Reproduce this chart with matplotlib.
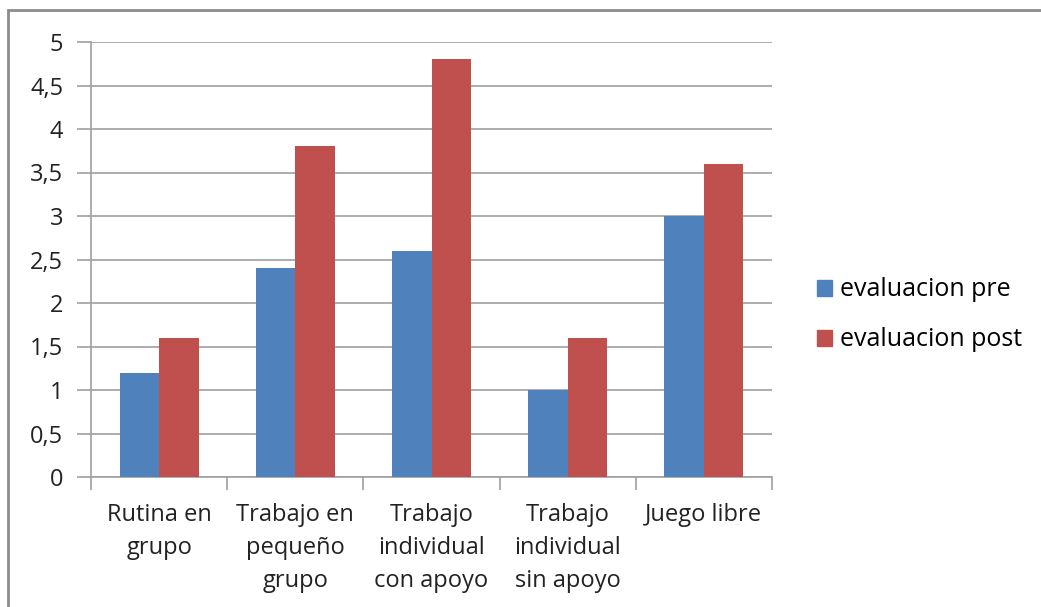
import matplotlib.pyplot as plt
import numpy as np
from matplotlib.patches import Patch, Rectangle

plt.rcParams['font.family'] = ['Open Sans', 'DejaVu Sans']

# data
categorias = ["Rutina en\ngrupo", "Trabajo en\npequeño\ngrupo", "Trabajo\nindividual\ncon apoyo",
              "Trabajo\nindividual\nsin apoyo", "Juego libre"]
eval_pre = [1.2, 2.4, 2.6, 1.0, 3.0]
eval_post = [1.6, 3.8, 4.8, 1.6, 3.6]
series = ["evaluacion pre", "evaluacion post"]
yticks = [0, 0.5, 1, 1.5, 2, 2.5, 3, 3.5, 4, 4.5, 5]
ytick_labels = ["0", "0,5", "1", "1,5", "2", "2,5", "3", "3,5", "4", "4,5", "5"]

blue = "#4F81BD"
red = "#C0504D"
grid_c = "#A0A0A0"
txt_c = "#222222"
fs = 17

fig = plt.figure(figsize=(10.41, 6.07), dpi=100)
ax = fig.add_axes([91/1041, 1-477/607, (772-91)/1041, (477-42)/607])

x = np.arange(len(categorias))
w = 0.29
ax.bar(x - w/2, eval_pre, w, color=blue, zorder=3)
ax.bar(x + w/2, eval_post, w, color=red, zorder=3)

ax.set_xlim(-0.5, len(categorias) - 0.5)
ax.set_ylim(0, 5)
ax.set_yticks(yticks)
ax.set_yticklabels(ytick_labels, fontsize=fs, color=txt_c)
ax.yaxis.grid(True, color=grid_c, linewidth=1.2, zorder=0)

# category labels at centers, tick marks at boundaries
ax.set_xticks(x)
ax.set_xticklabels(categorias, fontsize=fs, color=txt_c, linespacing=1.5)
ax.tick_params(axis='x', length=0, pad=19)
ax.set_xticks(np.arange(-0.5, len(categorias)), minor=True)
ax.tick_params(axis='x', which='minor', length=9, color=grid_c, width=1.2)
ax.tick_params(axis='y', length=10, color=grid_c, width=1.2, pad=10)

for s in ["top", "right"]:
    ax.spines[s].set_visible(False)
for s in ["left", "bottom"]:
    ax.spines[s].set_color(grid_c)
    ax.spines[s].set_linewidth(1.2)

handles = [Patch(color=blue), Patch(color=red)]
fig.legend(handles, series, loc="center left", bbox_to_anchor=(817/1041, 1-315/607),
           frameon=False, fontsize=18, handlelength=0.6, handleheight=0.6,
           handletextpad=0.3, labelspacing=1.0, borderpad=0, borderaxespad=0)

# outer chart border
fig.patches.append(Rectangle((8/1041, -0.05), 1.1, 1-10/607+0.05, transform=fig.transFigure,
                             fill=False, edgecolor="#8C8C8C", linewidth=2))

fig.savefig("out.png", dpi=100)
